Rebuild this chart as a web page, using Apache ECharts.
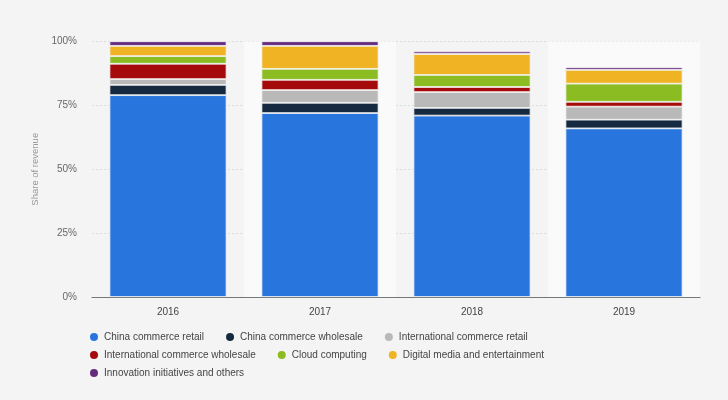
<!DOCTYPE html>
<html>
<head>
<meta charset="utf-8">
<script src="https://cdn.jsdelivr.net/npm/echarts@6/dist/echarts.min.js"></script>
<style>
html,body{margin:0;padding:0;background:#f4f4f4;}
#chart{width:728px;height:400px;}
</style>
</head>
<body>
<div id="chart"></div>
<script>
var categories = ['2016', '2017', '2018', '2019'];
var seriesNames = ['China commerce retail', 'China commerce wholesale', 'International commerce retail', 'International commerce wholesale', 'Cloud computing', 'Digital media and entertainment', 'Innovation initiatives and others'];
var chinaRetail = [79, 72, 71, 66];
var chinaWholesale = [4, 4, 3, 3.4];
var intlRetail = [2.3, 5, 6.2, 5.1];
var intlWholesale = [6, 4, 2, 1.9];
var cloud = [3, 4.3, 4.7, 7.1];
var digitalMedia = [4, 9, 8.2, 5.4];
var innovation = [1.8, 1.8, 1, 1];
var yTicks = [0, 25, 50, 75, 100];

var seriesData = [chinaRetail, chinaWholesale, intlRetail, intlWholesale, cloud, digitalMedia, innovation];
var colors = ['#2876dd', '#152a40', '#b9b9b9', '#a50b0b', '#8bbc21', '#f0b323', '#652b7f'];

var chart = echarts.init(document.getElementById('chart'));
var legendText = { fontSize: 10, color: '#444', fontFamily: 'Liberation Sans, Arial, sans-serif' };
function mkLegend(items, top) {
  return {
    left: 83, top: top, orient: 'horizontal', icon: 'circle',
    itemWidth: 10, itemHeight: 10, itemGap: 20,
    textStyle: legendText, data: items
  };
}
chart.setOption({
  backgroundColor: '#f4f4f4',
  animation: false,
  color: colors,
  grid: { left: 92, right: 28, top: 41.5, bottom: 103 },
  legend: [
    mkLegend(seriesNames.slice(0, 3), 326),
    mkLegend(seriesNames.slice(3, 6), 344),
    mkLegend(seriesNames.slice(6), 362)
  ],
  xAxis: {
    type: 'category',
    data: categories,
    axisLine: { show: true, lineStyle: { color: '#777', width: 1 } },
    axisTick: { show: false },
    axisLabel: { color: '#444', fontSize: 10, margin: 10, fontFamily: 'Liberation Sans, Arial, sans-serif' },
    splitArea: { show: true, areaStyle: { color: ['rgba(0,0,0,0)', '#fafafa'] } }
  },
  yAxis: {
    type: 'value',
    min: yTicks[0], max: yTicks[yTicks.length - 1], interval: 25,
    name: 'Share of revenue',
    nameLocation: 'middle',
    nameGap: 50,
    nameTextStyle: { color: '#999', fontSize: 9.5, fontFamily: 'Liberation Sans, Arial, sans-serif' },
    axisLine: { show: false },
    axisTick: { show: false },
    axisLabel: { color: '#666', fontSize: 10, margin: 15, formatter: '{value}%', fontFamily: 'Liberation Sans, Arial, sans-serif' },
    splitLine: { show: true, lineStyle: { color: '#dcdcdc', type: [2, 2], width: 1 } }
  },
  series: seriesNames.map(function (name, i) {
    return {
      name: name,
      type: 'bar',
      stack: 'total',
      barWidth: '77%',
      data: seriesData[i],
      itemStyle: { color: colors[i], borderColor: '#f4f4f4', borderWidth: 0.8 }
    };
  })
});
</script>
</body>
</html>
